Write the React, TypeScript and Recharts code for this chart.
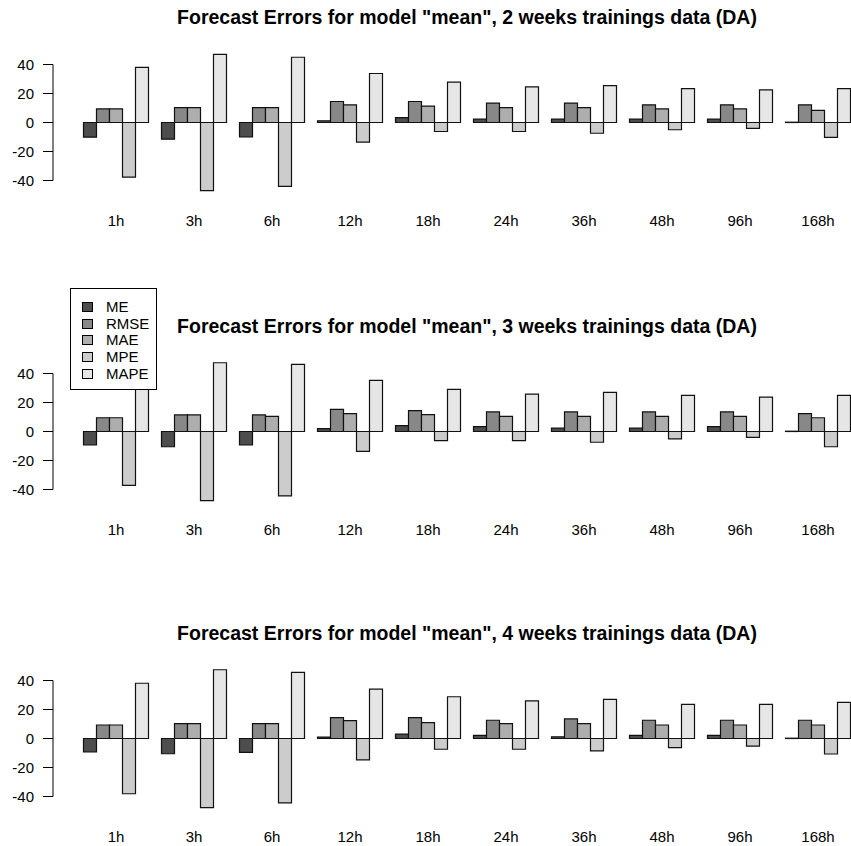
import { BarChart, Bar, XAxis, YAxis, ReferenceLine, Legend } from "recharts";

const horizons = ["1h", "3h", "6h", "12h", "18h", "24h", "36h", "48h", "96h", "168h"];
const metrics = ["ME", "RMSE", "MAE", "MPE", "MAPE"];
const fills = ["#4d4d4d", "#888888", "#aeaeae", "#cccccc", "#e6e6e6"];
const yTicks = [-40, -20, 0, 20, 40];

// 2 weeks of training data
const me2w = [-10.1, -11.5, -10, 1.2, 3.4, 2.3, 2.3, 2.3, 2.3, 0.2];
const rmse2w = [9.4, 10.3, 10.3, 14.5, 14.5, 13.4, 13.4, 12.2, 12.2, 12.2];
const mae2w = [9.4, 10.3, 10.3, 12.2, 11.3, 10.3, 10.3, 9.4, 9.4, 8.3];
const mpe2w = [-37.7, -47, -44, -13.6, -6.2, -6.2, -7.4, -5, -4.1, -10.3];
const mape2w = [38, 47, 45, 33.8, 27.8, 24.6, 25.5, 23.4, 22.5, 23.4];

// 3 weeks of training data
const me3w = [-9.3, -10.5, -9.3, 2, 4, 3.3, 2.3, 2.3, 3.3, 0.2];
const rmse3w = [9.5, 11.4, 11.4, 15.3, 14.4, 13.5, 13.5, 13.5, 13.5, 12.3];
const mae3w = [9.5, 11.4, 10.5, 12.3, 11.6, 10.5, 10.5, 10.5, 10.5, 9.5];
const mpe3w = [-37.2, -47.7, -44.4, -13.7, -6.3, -6.3, -7.4, -5.1, -4, -10.5];
const mape3w = [38.5, 47.4, 46.3, 35.3, 29, 25.8, 27, 24.9, 23.7, 24.9];

// 4 weeks of training data
const me4w = [-9.3, -10.5, -9.5, 1, 3, 2.1, 1.2, 2.1, 2.1, 0.2];
const rmse4w = [9.3, 10.2, 10.2, 14.4, 14.4, 12.6, 13.5, 12.6, 12.6, 12.6];
const mae4w = [9.3, 10.2, 10.2, 12.3, 10.9, 10.2, 10.2, 9.3, 9.3, 9.3];
const mpe4w = [-38.1, -47.7, -44.4, -14.7, -7.4, -7.4, -8.6, -6.3, -5.3, -10.7];
const mape4w = [38.1, 47.4, 45.6, 34, 28.8, 26, 27, 23.5, 23.5, 24.9];

const FONT = '"Liberation Sans", Arial, Helvetica, sans-serif';

function buildRows(series: number[][]) {
  return horizons.map((h, i) => {
    const row: Record<string, string | number> = { horizon: h };
    metrics.forEach((m, k) => {
      row[m] = series[k][i];
    });
    return row;
  });
}

// boxed legend in the metric order (Recharts sorts its payload by name)
function LegendBox() {
  return (
    <div
      style={{
        width: 87,
        height: 102,
        boxSizing: "border-box",
        border: "1px solid #000",
        background: "#fff",
        paddingTop: 10,
        fontFamily: FONT,
        fontSize: 15,
        color: "#000",
      }}
    >
      {metrics.map((m, i) => (
        <div key={m} style={{ height: 16.8, display: "flex", alignItems: "center" }}>
          <span
            style={{
              display: "inline-block",
              width: 11,
              height: 10,
              marginLeft: 11,
              boxSizing: "border-box",
              border: "1px solid #000",
              background: fills[i],
            }}
          />
          <span style={{ marginLeft: 13, lineHeight: "16px" }}>{m}</span>
        </div>
      ))}
    </div>
  );
}

interface PanelProps {
  title: string;
  rows: Record<string, string | number>[];
  top: number;
  withLegend?: boolean;
}

function Panel({ title, rows, top, withLegend }: PanelProps) {
  return (
    <div style={{ position: "absolute", left: 0, top, width: 870, height: 240 }}>
      <div
        style={{
          position: "absolute",
          top: 6,
          left: 467 - 400,
          width: 800,
          textAlign: "center",
          fontFamily: FONT,
          fontWeight: "bold",
          fontSize: 19.5,
          lineHeight: "23px",
          color: "#000",
        }}
      >
        {title}
      </div>
      <BarChart
        width={870}
        height={240}
        data={rows}
        margin={{ top: 50, right: 13, bottom: 0, left: 0 }}
        barCategoryGap={6.5}
        barGap={0}
      >
        <XAxis
          dataKey="horizon"
          axisLine={false}
          tickLine={false}
          tickSize={0}
          tickMargin={20}
          height={45}
          interval={0}
          padding={{ left: 24, right: 0 }}
          tick={{ fontSize: 15, fill: "#000", fontFamily: FONT }}
        />
        <XAxis xAxisId="frame" type="number" domain={[0, 1]} hide />
        <YAxis
          domain={[-50, 50]}
          ticks={yTicks}
          width={53}
          axisLine={false}
          tickSize={10}
          tickMargin={9}
          tickLine={{ stroke: "#000" }}
          tick={{ fontSize: 15, fill: "#000", fontFamily: FONT }}
        />
        <ReferenceLine
          xAxisId="frame"
          segment={[{ x: 0, y: -40 }, { x: 0, y: 40 }]}
          stroke="#000"
          ifOverflow="visible"
        />
        {metrics.map((m, i) => (
          <Bar
            key={m}
            dataKey={m}
            fill={fills[i]}
            stroke="#111"
            strokeWidth={1.2}
            isAnimationActive={false}
          />
        ))}
        {withLegend && (
          <Legend
            verticalAlign="middle"
            align="center"
            content={<LegendBox />}
            wrapperStyle={{ left: 70, top: -21, width: 87, height: 102 }}
          />
        )}
      </BarChart>
    </div>
  );
}

export default function App() {
  return (
    <div
      style={{
        position: "absolute",
        left: 0,
        top: 0,
        width: 851,
        height: 846,
        overflow: "hidden",
        background: "#fff",
      }}
    >
      <Panel
        title={'Forecast Errors for model "mean", 2 weeks trainings data (DA)'}
        rows={buildRows([me2w, rmse2w, mae2w, mpe2w, mape2w])}
        top={-0.5}
      />
      <Panel
        title={'Forecast Errors for model "mean", 3 weeks trainings data (DA)'}
        rows={buildRows([me3w, rmse3w, mae3w, mpe3w, mape3w])}
        top={308.5}
        withLegend
      />
      <Panel
        title={'Forecast Errors for model "mean", 4 weeks trainings data (DA)'}
        rows={buildRows([me4w, rmse4w, mae4w, mpe4w, mape4w])}
        top={616}
      />
    </div>
  );
}
